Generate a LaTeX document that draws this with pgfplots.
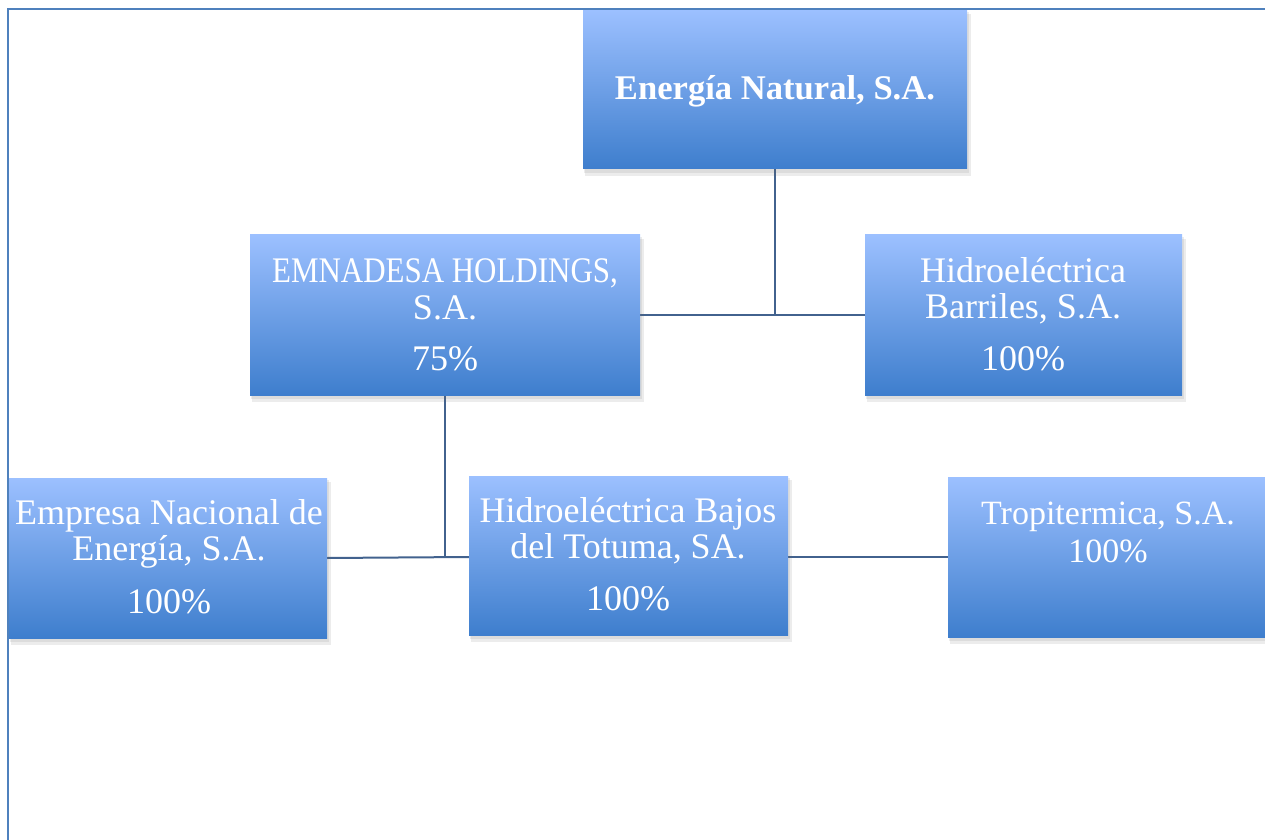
\documentclass[border=0pt]{standalone}
\usepackage{pgfplots}
\pgfplotsset{compat=1.18}
\usepackage{fontspec}
\setmainfont{Liberation Serif}
\newfontfamily\condensed[FakeStretch=0.86]{Liberation Serif}
\definecolor{boxtop}{RGB}{156,192,255}
\definecolor{boxmid}{RGB}{116,164,236}
\definecolor{boxbot}{RGB}{62,126,205}
\definecolor{frameblue}{RGB}{79,129,189}
\definecolor{linkblue}{RGB}{66,98,142}
\tikzset{
  shadowbox/.style={draw=none, fill=black!60, fill opacity=0.12},
  orgbox/.style={draw=none, top color=boxtop, middle color=boxmid, bottom color=boxbot},
  link/.style={draw=linkblue, line width=1pt},
  txt/.style={text=white, anchor=base, inner sep=0pt, font=\fontsize{18pt}{20pt}\selectfont},
  txtb/.style={text=white, anchor=base, inner sep=0pt, font=\fontsize{17.3pt}{20pt}\selectfont\bfseries},
}
\begin{document}
\begin{tikzpicture}
\begin{axis}[name=ax, at={(0,0)}, anchor=south west,
  scale only axis, width=632.5pt, height=420pt,
  xmin=0, xmax=1265, ymin=0, ymax=840, y dir=reverse,
  hide axis, no markers, clip=true,
]
% connectors
\addplot[link] coordinates {(775,169) (775,315)};
\addplot[link] coordinates {(640,315) (865,315)};
\addplot[link] coordinates {(445,395) (445,557)};
\addplot[link] coordinates {(327,558) (469,557)};
\addplot[link] coordinates {(788,557) (948,557)};
% shadows (two soft layers)
\addplot[shadowbox] coordinates {(584,12) (969,12) (969,173) (584,173)} -- cycle;
\addplot[shadowbox] coordinates {(585,14) (971,14) (971,176) (585,176)} -- cycle;
\addplot[shadowbox] coordinates {(251,237) (642,237) (642,399) (251,399)} -- cycle;
\addplot[shadowbox] coordinates {(252,239) (644,239) (644,402) (252,402)} -- cycle;
\addplot[shadowbox] coordinates {(866,237) (1184,237) (1184,399) (866,399)} -- cycle;
\addplot[shadowbox] coordinates {(867,239) (1186,239) (1186,402) (867,402)} -- cycle;
\addplot[shadowbox] coordinates {(10,480) (329,480) (329,642) (10,642)} -- cycle;
\addplot[shadowbox] coordinates {(11,482) (331,482) (331,645) (11,645)} -- cycle;
\addplot[shadowbox] coordinates {(470,478) (790,478) (790,639) (470,639)} -- cycle;
\addplot[shadowbox] coordinates {(471,480) (792,480) (792,642) (471,642)} -- cycle;
\addplot[shadowbox] coordinates {(949,479) (1272,479) (1272,641) (949,641)} -- cycle;
\addplot[shadowbox] coordinates {(950,481) (1274,481) (1274,644) (950,644)} -- cycle;
% boxes
\addplot[orgbox] coordinates {(583,10) (967,10) (967,169) (583,169)} -- cycle;
\addplot[orgbox] coordinates {(250,235) (640,235) (640,395) (250,395)} -- cycle;
\addplot[orgbox] coordinates {(865,235) (1182,235) (1182,395) (865,395)} -- cycle;
\addplot[orgbox] coordinates {(9,478) (327,478) (327,638) (9,638)} -- cycle;
\addplot[orgbox] coordinates {(469,476) (788,476) (788,635) (469,635)} -- cycle;
\addplot[orgbox] coordinates {(948,477) (1270,477) (1270,637) (948,637)} -- cycle;
% frame
\addplot[draw=frameblue, line width=1pt] coordinates {(8,840) (8,9) (1265,9)};
% texts
\node[txtb] at (axis cs:775,100) {Energía Natural, S.A.};
\node[txt, font=\fontsize{18pt}{20pt}\condensed] at (axis cs:445,283) {EMNADESA HOLDINGS,};
\node[txt] at (axis cs:445,319) {S.A.};
\node[txt] at (axis cs:445,370) {75\%};
\node[txt] at (axis cs:1023,282) {Hidroeléctrica};
\node[txt] at (axis cs:1023,318) {Barriles, S.A.};
\node[txt] at (axis cs:1023,370) {100\%};
\node[txt] at (axis cs:169,524) {Empresa Nacional de};
\node[txt] at (axis cs:169,560) {Energía, S.A.};
\node[txt] at (axis cs:169,613) {100\%};
\node[txt] at (axis cs:628,522) {Hidroeléctrica Bajos};
\node[txt] at (axis cs:628,558) {del Totuma, SA.};
\node[txt] at (axis cs:628,610) {100\%};
\node[txt, font=\fontsize{17pt}{20pt}\selectfont] at (axis cs:1108,524) {Tropitermica, S.A.};
\node[txt, font=\fontsize{17pt}{20pt}\selectfont] at (axis cs:1108,562) {100\%};
\end{axis}
\pgfresetboundingbox
\useasboundingbox (ax.south west) rectangle (ax.north east);
\end{tikzpicture}
\end{document}
